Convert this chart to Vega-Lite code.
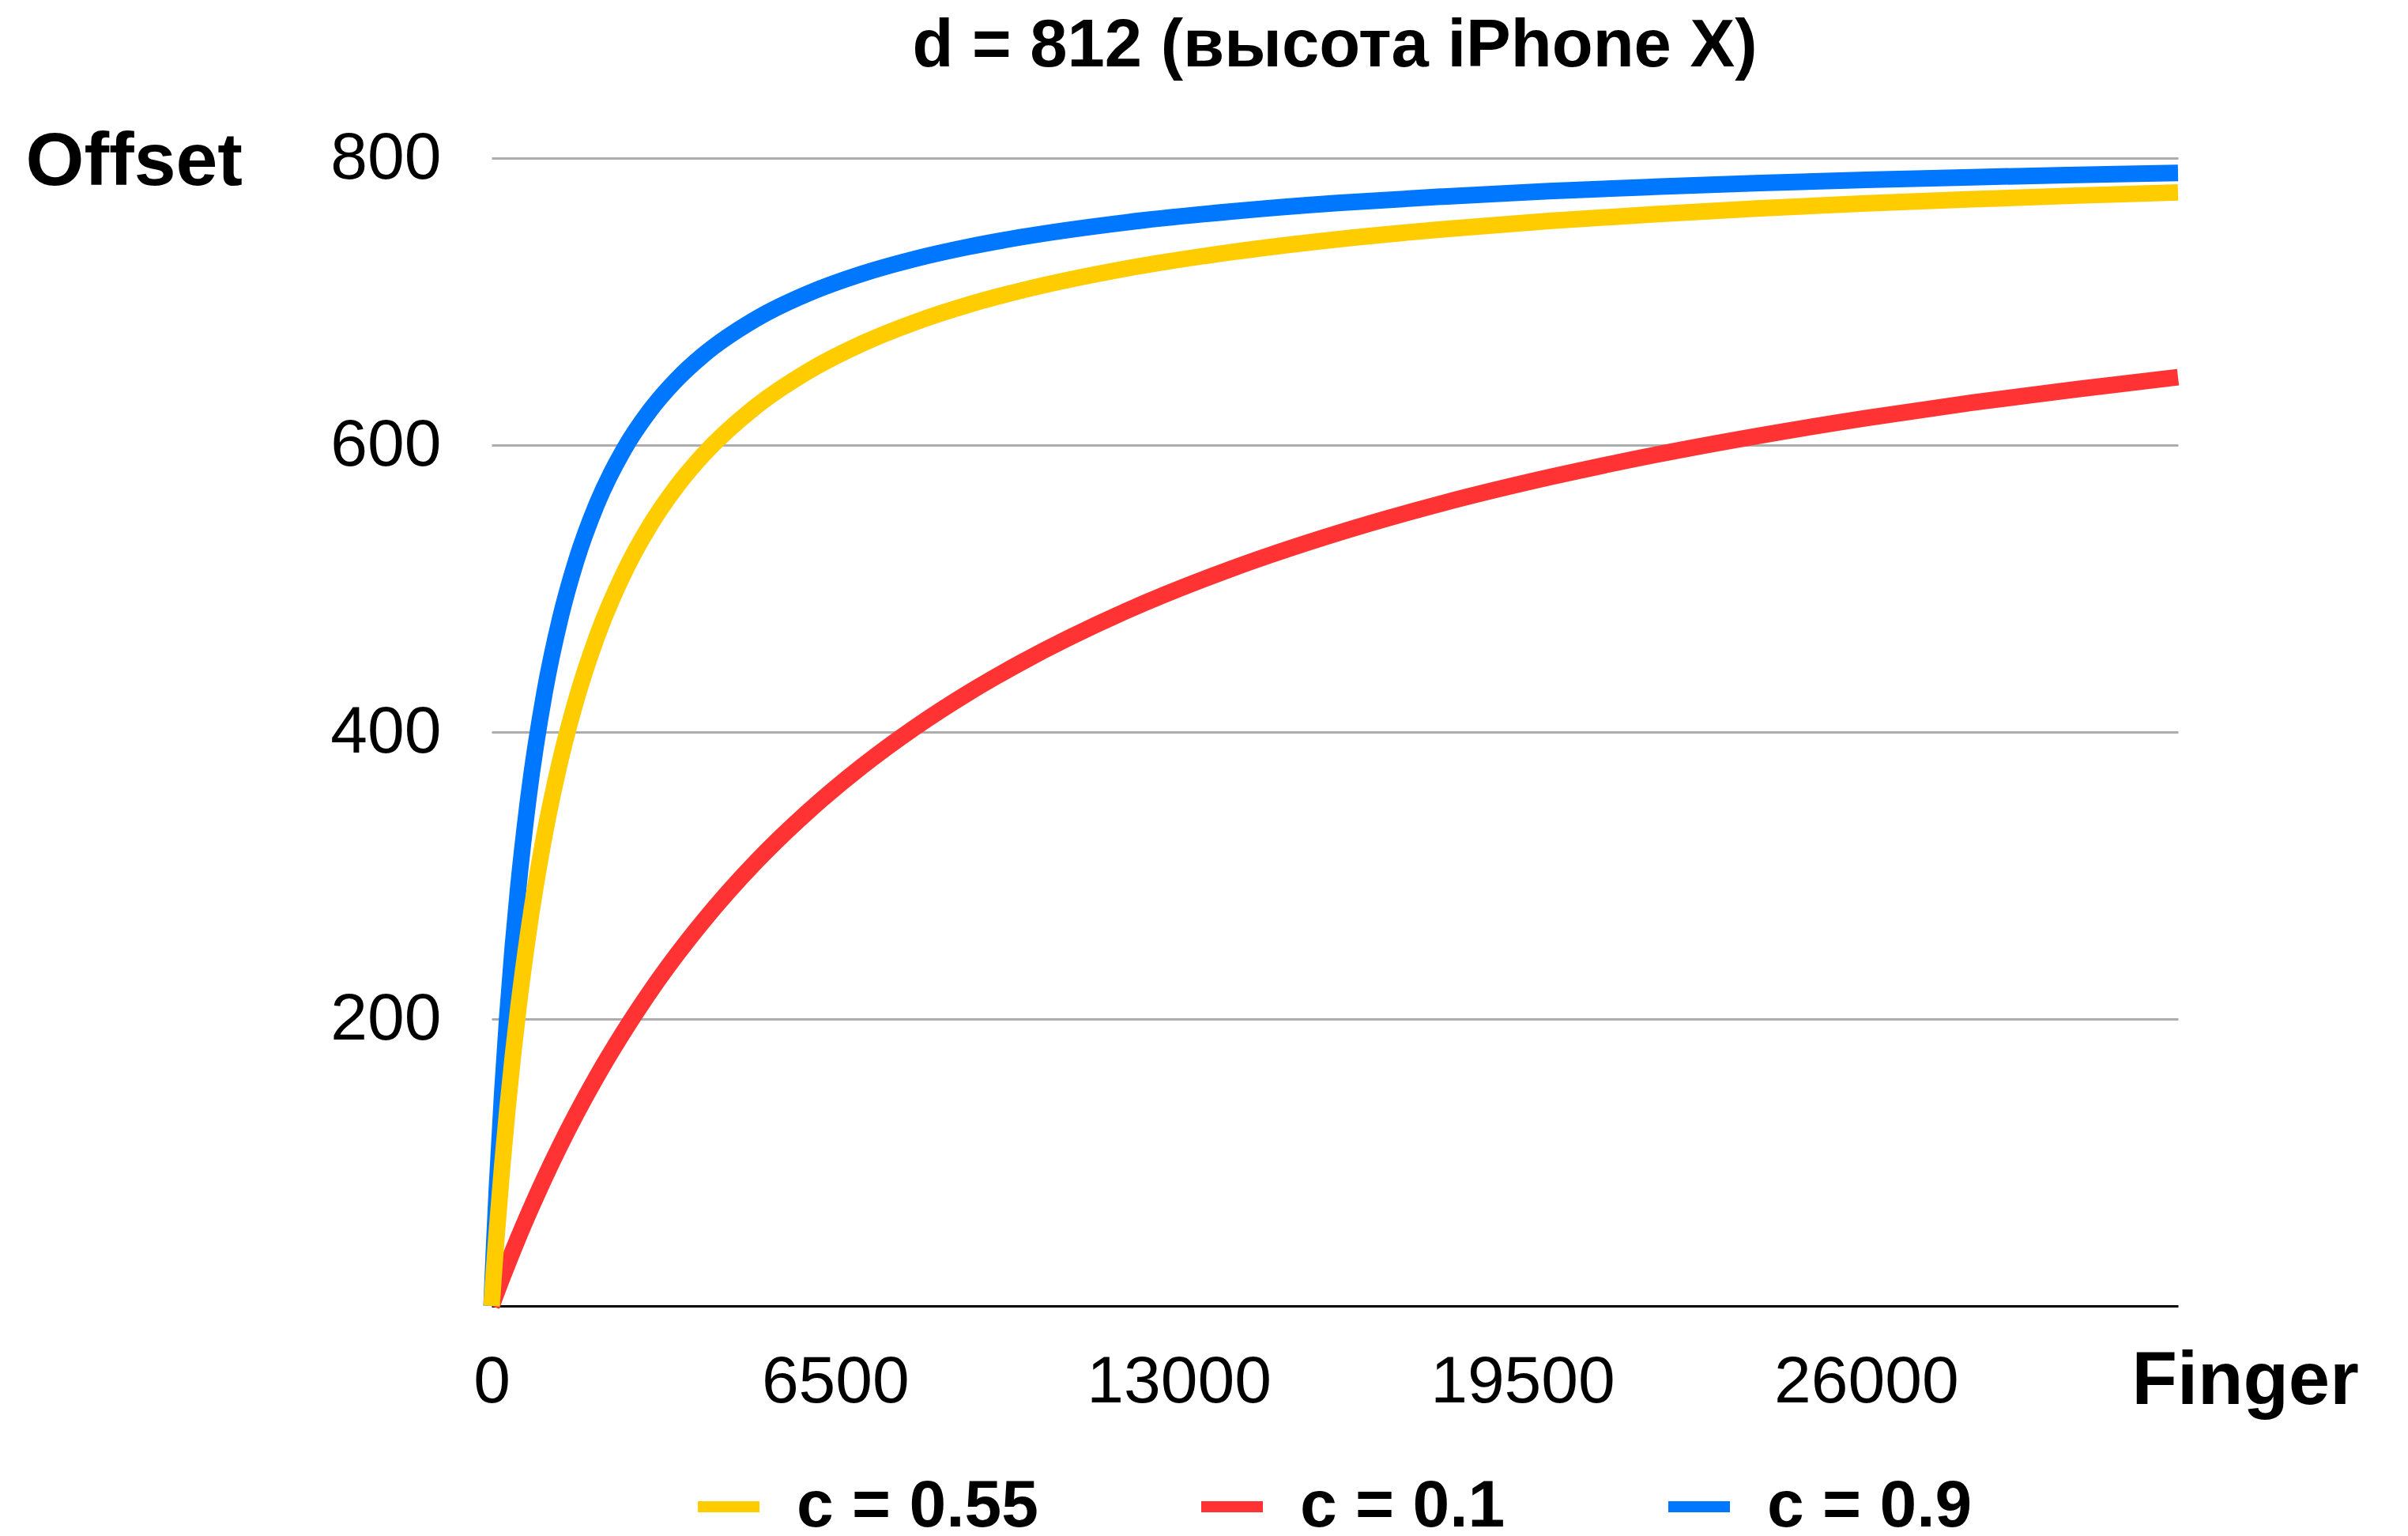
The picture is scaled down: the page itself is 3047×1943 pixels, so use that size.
{
  "$schema": "https://vega.github.io/schema/vega-lite/v6.json",
  "width": 2134,
  "height": 1452,
  "autosize": {"type": "none"},
  "padding": {"left": 622, "top": 200, "right": 291, "bottom": 291},
  "background": "white",
  "title": {
    "text": "d = 812 (высота iPhone X)",
    "font": "Liberation Sans",
    "fontSize": 85,
    "fontWeight": "bold",
    "color": "#000000",
    "anchor": "middle",
    "baseline": "alphabetic",
    "offset": -12
  },
  "data": {
    "values": [
      {"series": "c = 0.9", "finger": 0, "offset": 0},
      {"series": "c = 0.9", "finger": 50, "offset": 42.6},
      {"series": "c = 0.9", "finger": 100, "offset": 81.0},
      {"series": "c = 0.9", "finger": 200, "offset": 147.3},
      {"series": "c = 0.9", "finger": 300, "offset": 202.6},
      {"series": "c = 0.9", "finger": 400, "offset": 249.4},
      {"series": "c = 0.9", "finger": 500, "offset": 289.5},
      {"series": "c = 0.9", "finger": 700, "offset": 354.8},
      {"series": "c = 0.9", "finger": 1000, "offset": 426.9},
      {"series": "c = 0.9", "finger": 1300, "offset": 479.3},
      {"series": "c = 0.9", "finger": 1600, "offset": 519.2},
      {"series": "c = 0.9", "finger": 2000, "offset": 559.6},
      {"series": "c = 0.9", "finger": 2500, "offset": 596.7},
      {"series": "c = 0.9", "finger": 3000, "offset": 624.3},
      {"series": "c = 0.9", "finger": 3500, "offset": 645.6},
      {"series": "c = 0.9", "finger": 4000, "offset": 662.6},
      {"series": "c = 0.9", "finger": 5000, "offset": 687.9},
      {"series": "c = 0.9", "finger": 6000, "offset": 705.9},
      {"series": "c = 0.9", "finger": 7000, "offset": 719.3},
      {"series": "c = 0.9", "finger": 8000, "offset": 729.7},
      {"series": "c = 0.9", "finger": 9000, "offset": 738.0},
      {"series": "c = 0.9", "finger": 10000, "offset": 744.8},
      {"series": "c = 0.9", "finger": 12000, "offset": 755.2},
      {"series": "c = 0.9", "finger": 14000, "offset": 762.8},
      {"series": "c = 0.9", "finger": 16000, "offset": 768.7},
      {"series": "c = 0.9", "finger": 18000, "offset": 773.2},
      {"series": "c = 0.9", "finger": 20000, "offset": 777.0},
      {"series": "c = 0.9", "finger": 22000, "offset": 780.0},
      {"series": "c = 0.9", "finger": 24000, "offset": 782.6},
      {"series": "c = 0.9", "finger": 26000, "offset": 784.8},
      {"series": "c = 0.9", "finger": 28000, "offset": 786.7},
      {"series": "c = 0.9", "finger": 30000, "offset": 788.3},
      {"series": "c = 0.9", "finger": 31900, "offset": 789.7},

      {"series": "c = 0.1", "finger": 0, "offset": 0},
      {"series": "c = 0.1", "finger": 50, "offset": 5.0},
      {"series": "c = 0.1", "finger": 100, "offset": 9.9},
      {"series": "c = 0.1", "finger": 200, "offset": 19.5},
      {"series": "c = 0.1", "finger": 300, "offset": 28.9},
      {"series": "c = 0.1", "finger": 400, "offset": 38.1},
      {"series": "c = 0.1", "finger": 500, "offset": 47.1},
      {"series": "c = 0.1", "finger": 700, "offset": 64.4},
      {"series": "c = 0.1", "finger": 1000, "offset": 89.0},
      {"series": "c = 0.1", "finger": 1300, "offset": 112.1},
      {"series": "c = 0.1", "finger": 1600, "offset": 133.7},
      {"series": "c = 0.1", "finger": 2000, "offset": 160.5},
      {"series": "c = 0.1", "finger": 2500, "offset": 191.1},
      {"series": "c = 0.1", "finger": 3000, "offset": 219.1},
      {"series": "c = 0.1", "finger": 3500, "offset": 244.6},
      {"series": "c = 0.1", "finger": 4000, "offset": 268.0},
      {"series": "c = 0.1", "finger": 5000, "offset": 309.5},
      {"series": "c = 0.1", "finger": 6000, "offset": 345.0},
      {"series": "c = 0.1", "finger": 7000, "offset": 375.9},
      {"series": "c = 0.1", "finger": 8000, "offset": 403.0},
      {"series": "c = 0.1", "finger": 9000, "offset": 426.9},
      {"series": "c = 0.1", "finger": 10000, "offset": 448.1},
      {"series": "c = 0.1", "finger": 12000, "offset": 484.3},
      {"series": "c = 0.1", "finger": 14000, "offset": 513.9},
      {"series": "c = 0.1", "finger": 16000, "offset": 538.6},
      {"series": "c = 0.1", "finger": 18000, "offset": 559.6},
      {"series": "c = 0.1", "finger": 20000, "offset": 577.5},
      {"series": "c = 0.1", "finger": 22000, "offset": 593.1},
      {"series": "c = 0.1", "finger": 24000, "offset": 606.7},
      {"series": "c = 0.1", "finger": 26000, "offset": 618.8},
      {"series": "c = 0.1", "finger": 28000, "offset": 629.5},
      {"series": "c = 0.1", "finger": 30000, "offset": 639.0},
      {"series": "c = 0.1", "finger": 31900, "offset": 647.3},

      {"series": "c = 0.55", "finger": 0, "offset": 0},
      {"series": "c = 0.55", "finger": 50, "offset": 26.6},
      {"series": "c = 0.55", "finger": 100, "offset": 51.5},
      {"series": "c = 0.55", "finger": 200, "offset": 96.9},
      {"series": "c = 0.55", "finger": 300, "offset": 137.1},
      {"series": "c = 0.55", "finger": 400, "offset": 173.1},
      {"series": "c = 0.55", "finger": 500, "offset": 205.4},
      {"series": "c = 0.55", "finger": 700, "offset": 261.2},
      {"series": "c = 0.55", "finger": 1000, "offset": 327.9},
      {"series": "c = 0.55", "finger": 1300, "offset": 380.2},
      {"series": "c = 0.55", "finger": 1600, "offset": 422.3},
      {"series": "c = 0.55", "finger": 2000, "offset": 467.2},
      {"series": "c = 0.55", "finger": 2500, "offset": 510.5},
      {"series": "c = 0.55", "finger": 3000, "offset": 544.2},
      {"series": "c = 0.55", "finger": 3500, "offset": 571.1},
      {"series": "c = 0.55", "finger": 4000, "offset": 593.1},
      {"series": "c = 0.55", "finger": 5000, "offset": 626.9},
      {"series": "c = 0.55", "finger": 6000, "offset": 651.7},
      {"series": "c = 0.55", "finger": 7000, "offset": 670.6},
      {"series": "c = 0.55", "finger": 8000, "offset": 685.5},
      {"series": "c = 0.55", "finger": 9000, "offset": 697.6},
      {"series": "c = 0.55", "finger": 10000, "offset": 707.5},
      {"series": "c = 0.55", "finger": 12000, "offset": 723.0},
      {"series": "c = 0.55", "finger": 14000, "offset": 734.5},
      {"series": "c = 0.55", "finger": 16000, "offset": 743.4},
      {"series": "c = 0.55", "finger": 18000, "offset": 750.4},
      {"series": "c = 0.55", "finger": 20000, "offset": 756.2},
      {"series": "c = 0.55", "finger": 22000, "offset": 760.9},
      {"series": "c = 0.55", "finger": 24000, "offset": 765.0},
      {"series": "c = 0.55", "finger": 26000, "offset": 768.4},
      {"series": "c = 0.55", "finger": 28000, "offset": 771.3},
      {"series": "c = 0.55", "finger": 30000, "offset": 773.9},
      {"series": "c = 0.55", "finger": 31900, "offset": 776.1}
    ]
  },
  "mark": {
    "type": "line",
    "strokeWidth": 21,
    "strokeCap": "butt",
    "strokeJoin": "round",
    "interpolate": "monotone",
    "clip": false
  },
  "encoding": {
    "x": {
      "field": "finger",
      "type": "quantitative",
      "scale": {"domain": [0, 31900], "nice": false, "zero": true},
      "axis": {
        "values": [0, 6500, 13000, 19500, 26000],
        "format": "d",
        "grid": false,
        "ticks": false,
        "tickSize": 0,
        "domain": true,
        "domainColor": "#000000",
        "domainWidth": 3,
        "labelFont": "Liberation Sans",
        "labelFontSize": 84,
        "labelColor": "#000000",
        "labelBaseline": "alphabetic",
        "labelAlign": "center",
        "labelPadding": 121,
        "labelLimit": 1000,
        "labelOverlap": false,
        "labelFlush": false,
        "title": "Finger",
        "titleFont": "Liberation Sans",
        "titleFontSize": 94,
        "titleFontWeight": "bold",
        "titleColor": "#000000",
        "titleAlign": "left",
        "titleBaseline": "alphabetic",
        "titleX": 2075,
        "titleY": 123
      }
    },
    "y": {
      "field": "offset",
      "type": "quantitative",
      "scale": {"domain": [0, 800], "nice": false},
      "axis": {
        "values": [200, 400, 600, 800],
        "format": "d",
        "grid": true,
        "gridColor": "#adadad",
        "gridWidth": 3,
        "ticks": false,
        "tickSize": 0,
        "domain": false,
        "labelFont": "Liberation Sans",
        "labelFontSize": 84,
        "labelColor": "#000000",
        "labelBaseline": "middle",
        "labelPadding": 64,
        "labelLimit": 1000,
        "labelOverlap": false,
        "labelFlush": false,
        "title": "Offset",
        "titleFont": "Liberation Sans",
        "titleFontSize": 95,
        "titleFontWeight": "bold",
        "titleColor": "#000000",
        "titleAngle": 0,
        "titleAlign": "left",
        "titleBaseline": "alphabetic",
        "titleX": -590,
        "titleY": 33
      }
    },
    "color": {
      "field": "series",
      "type": "nominal",
      "scale": {
        "domain": ["c = 0.55", "c = 0.1", "c = 0.9"],
        "range": ["#FFCC00", "#FF3333", "#0077FF"]
      },
      "legend": {
        "title": null,
        "orient": "none",
        "direction": "horizontal",
        "legendX": 254,
        "legendY": 1660,
        "padding": 0,
        "symbolType": "stroke",
        "symbolSize": 6084,
        "symbolStrokeWidth": 14,
        "labelFont": "Liberation Sans",
        "labelFontSize": 84,
        "labelFontWeight": "bold",
        "labelColor": "#000000",
        "labelOffset": 40,
        "labelLimit": 1000,
        "columnPadding": 178
      }
    }
  },
  "config": {
    "view": {"stroke": null},
    "font": "Liberation Sans"
  }
}
